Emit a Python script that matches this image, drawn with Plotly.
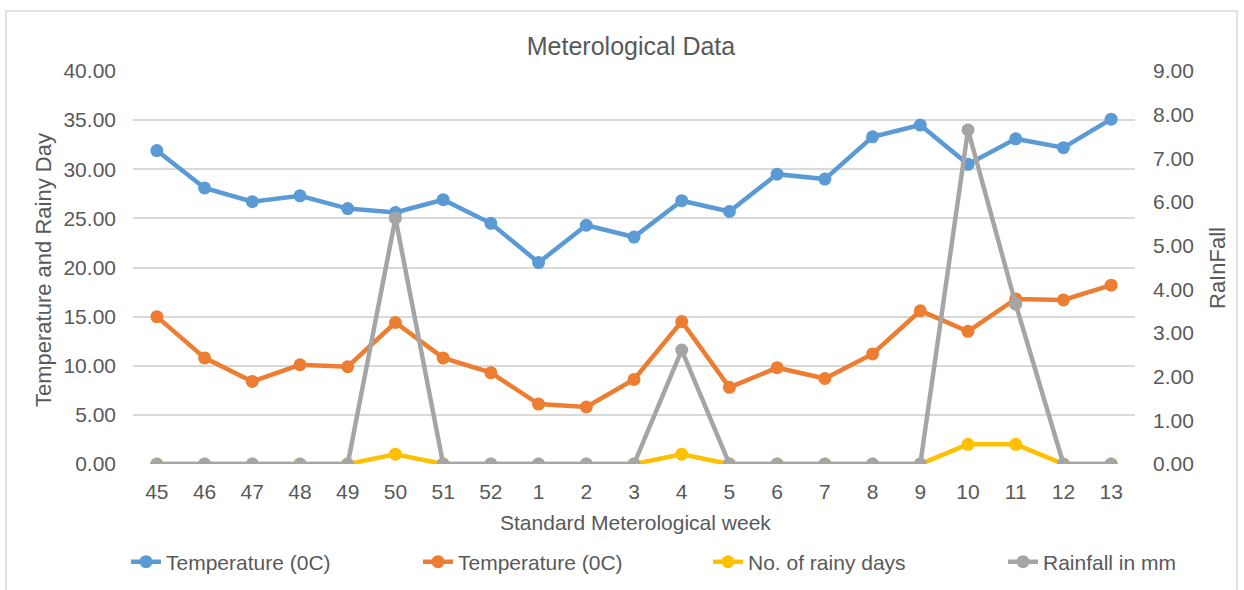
import plotly.graph_objects as go

weeks = ["45", "46", "47", "48", "49", "50", "51", "52", "1", "2", "3", "4", "5",
         "6", "7", "8", "9", "10", "11", "12", "13"]
temp_max = [31.9, 28.1, 26.7, 27.3, 26.0, 25.6, 26.9, 24.5, 20.5, 24.3, 23.1, 26.8, 25.7,
            29.5, 29.0, 33.3, 34.5, 30.5, 33.1, 32.2, 35.1]
temp_min = [15.0, 10.8, 8.4, 10.1, 9.9, 14.4, 10.8, 9.3, 6.1, 5.8, 8.6, 14.5, 7.8,
            9.8, 8.7, 11.2, 15.6, 13.5, 16.8, 16.7, 18.2]
rainy_days = [0, 0, 0, 0, 0, 1, 0, 0, 0, 0, 0, 1, 0, 0, 0, 0, 0, 2, 2, 0, 0]
rainfall = [0, 0, 0, 0, 0, 5.63, 0, 0, 0, 0, 0, 2.61, 0, 0, 0, 0, 0, 7.65, 3.66, 0, 0]

FONT = "Liberation Sans, Arial, sans-serif"
GREY_TXT = "#595959"

# plot area in pixels
L, R, T, B = 133, 1135, 71, 464
W, H = R - L, B - T

def px_x(p):
    return (p - L) / W

def px_y(p):
    return (B - p) / H

fig = go.Figure()
series = [
    ("Temperature (0C)", temp_max, "#5b9bd5", "y", "legend", 126),
    ("Temperature (0C)", temp_min, "#ed7d31", "y", "legend2", 418),
    ("No. of rainy days", rainy_days, "#ffc000", "y", "legend3", 708),
    ("Rainfall in mm", rainfall, "#a5a5a5", "y2", "legend4", 1003),
]
legend_cfg = {}
for name, vals, col, ax, lg, lx in series:
    fig.add_trace(go.Scatter(
        x=weeks, y=vals, name=name, yaxis=ax, mode="lines+markers", legend=lg,
        line=dict(color=col, width=4.5), marker=dict(color=col, size=13),
    ))
    legend_cfg[lg] = dict(orientation="h", x=px_x(lx), xanchor="left", y=px_y(562),
                          yanchor="middle", font=dict(size=21, color=GREY_TXT),
                          bgcolor="rgba(0,0,0,0)")

fig.update_layout(
    width=1244, height=590,
    margin=dict(l=L, r=1244 - R, t=T, b=590 - B, autoexpand=False),
    paper_bgcolor="white", plot_bgcolor="white",
    font=dict(family=FONT, color=GREY_TXT, size=21),
    title=dict(text="Meterological Data", x=631 / 1244, xanchor="center", y=1 - 46 / 590,
               yanchor="middle", font=dict(size=25, color=GREY_TXT)),
    xaxis=dict(type="category", range=[-0.5, len(weeks) - 0.5], showgrid=False,
               showline=False, ticks="", automargin=False, ticklabelstandoff=13,
               tickfont=dict(size=21, color=GREY_TXT)),
    yaxis=dict(range=[0, 40], dtick=5, tickformat=".2f", gridcolor="#d9d9d9", gridwidth=1.5,
               zeroline=False, showline=False, ticks="", automargin=False,
               ticklabelstandoff=16, tickfont=dict(size=21, color=GREY_TXT)),
    yaxis2=dict(range=[0, 9], dtick=1, tickformat=".2f", overlaying="y", side="right",
                showgrid=False, zeroline=False, showline=False, ticks="", automargin=False,
                ticklabelstandoff=17, tickfont=dict(size=21, color=GREY_TXT)),
    showlegend=True,
    annotations=[
        dict(text="Standard Meterological week", xref="paper", yref="paper",
             x=px_x(635), y=px_y(522), xanchor="center", yanchor="middle", showarrow=False,
             font=dict(size=21, color=GREY_TXT)),
        dict(text="Temperature and Rainy Day", xref="paper", yref="paper",
             x=px_x(43), y=px_y(270), xanchor="center", yanchor="middle", showarrow=False,
             textangle=-90, font=dict(size=22, color=GREY_TXT)),
        dict(text="RaInFall", xref="paper", yref="paper",
             x=px_x(1217), y=px_y(268), xanchor="center", yanchor="middle", showarrow=False,
             textangle=-90, font=dict(size=22, color=GREY_TXT)),
    ],
    **legend_cfg,
)

# outer chart border
fig.add_shape(type="rect", xref="paper", yref="paper",
              x0=px_x(6), x1=px_x(1237), y0=px_y(600), y1=px_y(11),
              line=dict(color="#d9d9d9", width=1.5), fillcolor="rgba(0,0,0,0)", layer="below")

fig.write_html("out.html")
